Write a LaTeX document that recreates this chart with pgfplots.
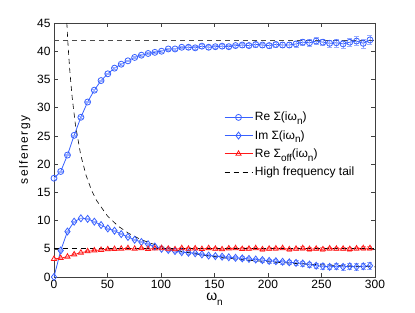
\documentclass[border=0pt]{standalone}
\usepackage{fontspec}
\setmainfont{Liberation Sans}
\usepackage{pgfplots}
\usepackage{pgfplotstable}
\pgfplotsset{compat=1.18}
\definecolor{mblue}{rgb}{0.22,0.38,1}
\definecolor{lblue}{rgb}{0.6,0.68,1}
\definecolor{mred}{rgb}{1,0.1,0.1}
\definecolor{lred}{rgb}{1,0.6,0.6}
\newcommand{\sub}[1]{\raisebox{-0.6ex}{\fontsize{10}{10}\selectfont #1}}

\pgfplotstableread{
x y e
0 17.5 0.1
6.28 18.7 0.1
12.57 21.6 0.1
18.85 25.1 0.1
25.13 28.3 0.1
31.42 31.0 0.1
37.70 33.1 0.1
43.98 34.8 0.1
50.27 36.0 0.1
56.55 37.0 0.1
62.83 37.7 0.15
69.12 38.3 0.15
75.40 38.9 0.15
81.68 39.3 0.15
87.96 39.6 0.2
94.25 39.8 0.2
100.53 40.0 0.2
106.81 40.4 0.2
113.10 40.4 0.2
119.38 40.7 0.2
125.66 40.7 0.3
131.95 40.6 0.3
138.23 40.9 0.3
144.51 40.7 0.3
150.80 40.8 0.3
157.08 40.9 0.3
163.36 40.8 0.3
169.65 41.0 0.3
175.93 41.1 0.35
182.21 41.0 0.35
188.50 41.2 0.4
194.78 41.1 0.4
201.06 41.0 0.4
207.35 41.2 0.4
213.63 41.1 0.45
219.91 41.1 0.45
226.19 41.3 0.5
232.48 41.6 0.5
238.76 41.5 0.6
245.04 41.8 0.6
251.33 41.6 0.6
257.61 41.4 0.6
263.89 41.5 0.7
270.18 41.3 0.7
276.46 41.6 0.7
282.74 41.8 0.8
289.03 41.4 0.8
295.31 42.0 0.8
}\reS

\pgfplotstableread{
x y e
0 0 0.05
6.28 4.7 0.05
12.57 8.05 0.05
18.85 9.8 0.05
25.13 10.4 0.05
31.42 10.3 0.05
37.70 9.8 0.05
43.98 9.2 0.05
50.27 8.6 0.05
56.55 8.2 0.05
62.83 7.6 0.1
69.12 7.1 0.1
75.40 6.6 0.1
81.68 6.2 0.1
87.96 5.8 0.1
94.25 5.4 0.1
100.53 5.0 0.15
106.81 4.8 0.15
113.10 4.6 0.15
119.38 4.4 0.15
125.66 4.3 0.2
131.95 4.2 0.2
138.23 4.0 0.2
144.51 3.8 0.2
150.80 3.7 0.25
157.08 3.6 0.25
163.36 3.5 0.25
169.65 3.4 0.25
175.93 3.3 0.3
182.21 3.2 0.3
188.50 3.1 0.3
194.78 3.0 0.3
201.06 2.85 0.35
207.35 2.8 0.35
213.63 2.7 0.35
219.91 2.6 0.4
226.19 2.5 0.4
232.48 2.4 0.45
238.76 2.2 0.45
245.04 2.0 0.5
251.33 1.9 0.5
257.61 1.8 0.5
263.89 1.9 0.55
270.18 1.8 0.55
276.46 1.9 0.6
282.74 1.8 0.6
289.03 1.9 0.6
295.31 2.0 0.6
}\imS

\pgfplotstableread{
x y e
0 3.2 0.15
6.28 3.35 0.15
12.57 3.6 0.15
18.85 4.0 0.15
25.13 4.3 0.15
31.42 4.55 0.15
37.70 4.7 0.15
43.98 4.8 0.15
50.27 4.9 0.15
56.55 4.95 0.15
62.83 5.0 0.15
69.12 5.1 0.15
75.40 5.0 0.15
81.68 5.1 0.15
87.96 4.95 0.15
94.25 5.05 0.15
100.53 5.1 0.2
106.81 5.0 0.2
113.10 4.9 0.2
119.38 5.1 0.2
125.66 5.0 0.2
131.95 5.05 0.2
138.23 4.95 0.2
144.51 5.1 0.2
150.80 5.0 0.2
157.08 4.9 0.2
163.36 5.05 0.2
169.65 5.1 0.2
175.93 4.95 0.25
182.21 5.0 0.25
188.50 5.1 0.25
194.78 4.9 0.25
201.06 5.0 0.25
207.35 5.05 0.25
213.63 5.1 0.25
219.91 4.9 0.25
226.19 5.0 0.25
232.48 5.1 0.3
238.76 4.95 0.3
245.04 5.0 0.3
251.33 4.9 0.3
257.61 5.05 0.3
263.89 5.0 0.3
270.18 5.0 0.3
276.46 4.95 0.3
282.74 5.05 0.3
289.03 5.1 0.3
295.31 5.1 0.3
}\reOff

\begin{document}
\begin{tikzpicture}
\path[use as bounding box] (-54pt,-36pt) rectangle (361pt,277pt);
\begin{axis}[
  scale only axis, width=321pt, height=254pt,
  xmin=0, xmax=300, ymin=0, ymax=45,
  xtick={0,50,...,300}, ytick={0,5,...,45},
  tick align=inside, major tick length=4pt,
  axis line style={draw=black!75},
  every tick/.style={black!75},
  font=\fontsize{12}{14}\selectfont,
  /pgf/number format/assume math mode=true,
  xlabel={\fontsize{14}{14}\selectfont ω\sub{n}},
  ylabel={\addfontfeatures{LetterSpace=12}selfenergy},
  xlabel style={yshift=2.5pt},
  ylabel style={yshift=0pt},
  legend style={draw=none, fill=none, at={(0.52,0.665)}, anchor=north west,
    row sep=4pt, font=\fontsize{12}{14}\selectfont},
  legend cell align=left,
  legend image code/.code={\draw[mark repeat=2,mark phase=2,#1] plot coordinates {(0pt,0pt)(14pt,0pt)(28pt,0pt)};},
]
\addplot[color=mblue, mark=o, mark size=3pt, thick,
  error bars/.cd, y dir=both, y explicit,
  error bar style={color=lblue, line width=0.6pt},
  error mark options={rotate=90, mark size=2.5pt, color=lblue}]
  table[x=x, y=y, y error=e] {\reS};
\addlegendentry{Re Σ(iω\sub{n})}
\addplot[color=mblue, mark=diamond, mark size=3.5pt, thick,
  error bars/.cd, y dir=both, y explicit,
  error bar style={color=lblue, line width=0.6pt},
  error mark options={rotate=90, mark size=2.5pt, color=lblue}]
  table[x=x, y=y, y error=e] {\imS};
\addlegendentry{Im Σ(iω\sub{n})}
\addplot[color=mred, mark=triangle, mark size=3pt, thick,
  error bars/.cd, y dir=both, y explicit,
  error bar style={color=lred, line width=0.6pt},
  error mark options={rotate=90, mark size=2.5pt, color=lred}]
  table[x=x, y=y, y error=e] {\reOff};
\addlegendentry{Re Σ\sub{off}(iω\sub{n})}
\addplot[black, dashed, dash pattern=on 5pt off 4pt, semithick] coordinates {
(12,45) (13,41.5) (14,38.6) (15,36) (17,31.8) (20,27) (25,21.6) (30,18) (35,15.4)
(40,13.5) (50,10.8) (60,9) (70,7.71) (80,6.75) (90,6) (100,5.4) (120,4.5)
(140,3.86) (160,3.375) (180,3) (200,2.7) (225,2.4) (250,2.16) (275,1.96) (300,1.8)};
\addlegendentry{High frequency tail}
\addplot[black!70, dashed, dash pattern=on 5pt off 4pt, semithick, forget plot] coordinates {(0,41.9) (300,41.9)};
\addplot[black, dashed, dash pattern=on 5pt off 4pt, semithick, forget plot] coordinates {(0,5) (300,5)};
\end{axis}
\end{tikzpicture}
\end{document}
